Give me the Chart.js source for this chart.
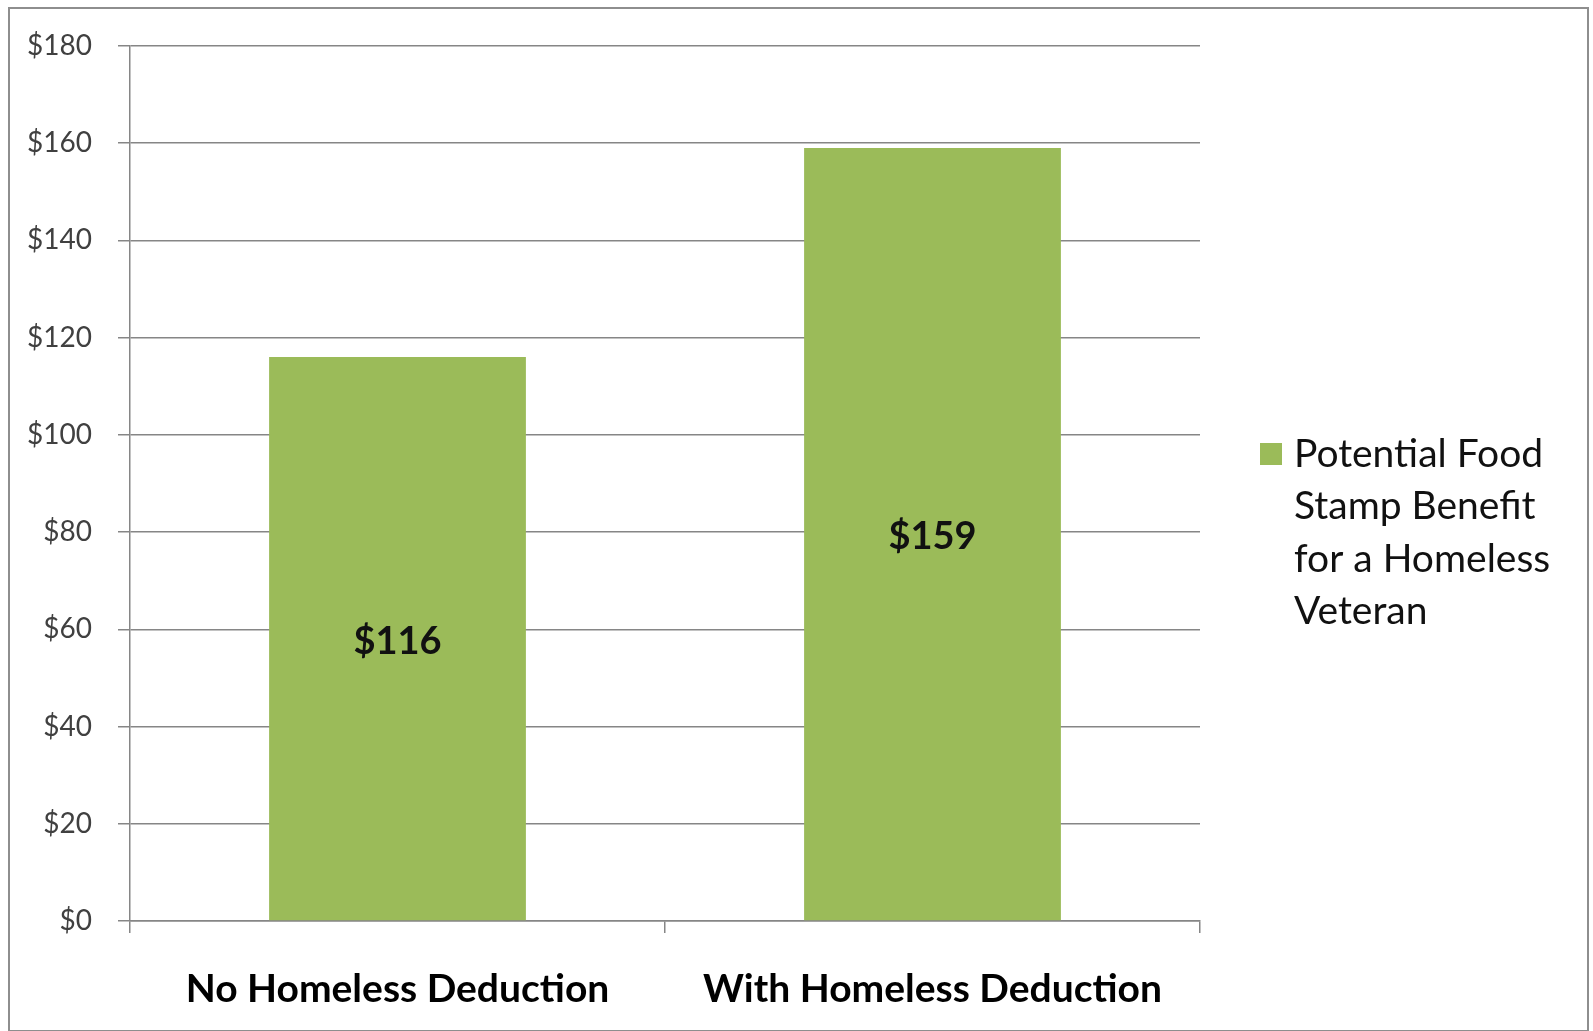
<!DOCTYPE html>
<html>
<head>
<script src="https://cdn.jsdelivr.net/npm/chart.js"></script>
<title>Food Stamp Benefit</title>
<style>
  body {
    margin: 0;
    background-color: white;
  }
  .frame {
    position: absolute;
    left: 8px;
    top: 7px;
    width: 1577px;
    height: 1021px;
    border: 2px solid #8e8e8e;
  }
  #chart {
    position: absolute;
    left: 0;
    top: 0;
  }
</style>
</head>
<body>
<div class="frame"></div>
<canvas id="chart" width="1593" height="1031"></canvas>
<script>
// monthly benefit, in dollars
var categories = ['No Homeless Deduction', 'With Homeless Deduction'];
var benefit = [116, 159];
var seriesName = 'Potential Food Stamp Benefit for a Homeless Veteran';
var yMin = 0;
var yMax = 180;
var yStep = 20;

var barGreen = '#9bbb59';
var axisGray = '#868686';

// dollar amount printed in the middle of each bar
var valueLabels = {
  id: 'valueLabels',
  afterDatasetsDraw: function(chart) {
    var ctx = chart.ctx;
    var meta = chart.getDatasetMeta(0);
    ctx.save();
    ctx.font = 'bold 38px Lato';
    ctx.fillStyle = '#111';
    ctx.textAlign = 'center';
    ctx.textBaseline = 'middle';
    meta.data.forEach(function(bar, i) {
      ctx.fillText('$' + benefit[i], bar.x, (bar.y + bar.base) / 2 + 3);
    });
    ctx.restore();
  }
};

// legend on the right, series name wrapped over several lines
var sideLegend = {
  id: 'sideLegend',
  afterDraw: function(chart) {
    var ctx = chart.ctx;
    var ds = chart.data.datasets[0];
    ctx.save();
    ctx.font = '39px Lato';
    var lines = [];
    var line = '';
    ds.label.split(' ').forEach(function(w) {
      var t = line ? line + ' ' + w : w;
      if (line && ctx.measureText(t).width > 280) {
        lines.push(line);
        line = w;
      } else {
        line = t;
      }
    });
    lines.push(line);

    ctx.fillStyle = ds.backgroundColor;
    ctx.fillRect(1260, 443, 22, 22);
    ctx.fillStyle = '#111';
    ctx.textBaseline = 'middle';
    for (var i = 0; i < lines.length; i++) {
      ctx.fillText(lines[i], 1294, 454 + i * 52.5);
    }
    ctx.restore();
  }
};

var ctx = document.getElementById('chart').getContext('2d');
var chart = new Chart(ctx, {
  type: 'bar',
  data: {
    labels: categories,
    datasets: [{
      label: seriesName,
      data: benefit,
      backgroundColor: barGreen,
      barPercentage: 0.48,
      categoryPercentage: 1.0
    }]
  },
  options: {
    responsive: false,
    animation: false,
    layout: {
      padding: { left: 0, top: 46, right: 393, bottom: 0 }
    },
    plugins: {
      legend: { display: false },
      tooltip: { enabled: false }
    },
    scales: {
      x: {
        offset: true,
        grid: {
          offset: true,
          drawOnChartArea: false,
          tickLength: 12,
          color: axisGray,
          lineWidth: 1.5
        },
        border: { color: axisGray, width: 1.5 },
        ticks: {
          font: { family: 'Lato', size: 39, weight: 'bold' },
          color: '#000',
          padding: 33,
          maxRotation: 0
        },
        afterFit: function(scale) { scale.height = 110; }
      },
      y: {
        min: yMin,
        max: yMax,
        grid: {
          color: axisGray,
          tickLength: 12,
          lineWidth: 1.5
        },
        border: { color: axisGray, width: 1.5 },
        ticks: {
          stepSize: yStep,
          callback: function(v) { return '$' + v; },
          font: { family: 'Lato', size: 28 },
          color: '#404040',
          padding: 26
        },
        afterFit: function(scale) { scale.width = 130; }
      }
    }
  },
  plugins: [valueLabels, sideLegend]
});
</script>
</body>
</html>
